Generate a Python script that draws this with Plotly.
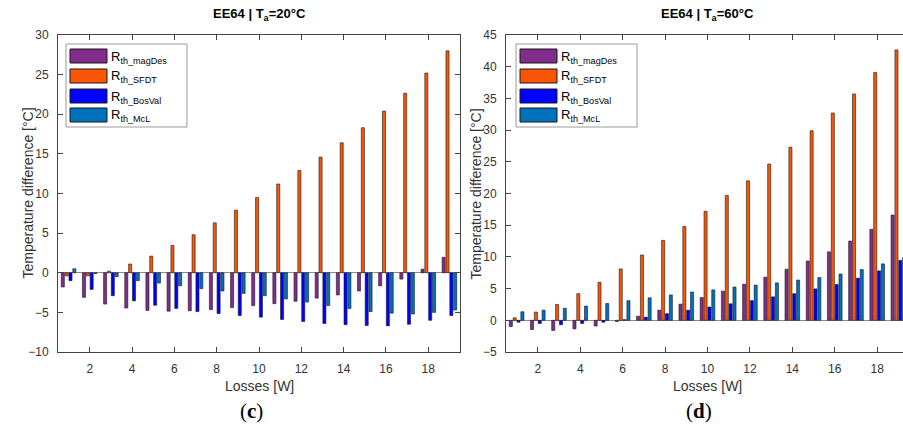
import plotly.graph_objects as go

# ---------------- data ----------------
losses = list(range(1, 20))
x_ticks = [2, 4, 6, 8, 10, 12, 14, 16, 18]
series_names = ["R<sub>th_magDes</sub>", "R<sub>th_SFDT</sub>", "R<sub>th_BosVal</sub>", "R<sub>th_McL</sub>"]

# Ta = 20 °C
magDes_20 = [-1.8, -3.1, -3.95, -4.45, -4.75, -4.85, -4.8, -4.65, -4.4, -4.15, -3.9, -3.6, -3.2, -2.8, -2.3, -1.65, -0.8, 0.45, 1.95]
SFDT_20 = [-0.4, -0.4, 0.2, 1.1, 2.1, 3.45, 4.8, 6.3, 7.9, 9.5, 11.2, 12.9, 14.6, 16.4, 18.3, 20.4, 22.65, 25.2, 28.0]
BosVal_20 = [-1.0, -2.1, -2.9, -3.55, -4.1, -4.5, -4.9, -5.15, -5.4, -5.6, -5.9, -6.15, -6.4, -6.55, -6.65, -6.7, -6.5, -6.0, -5.4]
McL_20 = [0.5, -0.1, -0.5, -1.0, -1.3, -1.65, -2.0, -2.3, -2.6, -2.9, -3.3, -3.7, -4.15, -4.5, -4.9, -5.1, -5.2, -5.0, -4.7]

# Ta = 60 °C
magDes_60 = [-1.0, -1.45, -1.6, -1.35, -0.9, -0.2, 0.65, 1.6, 2.55, 3.6, 4.6, 5.7, 6.8, 8.05, 9.35, 10.8, 12.5, 14.35, 16.6]
SFDT_60 = [0.4, 1.3, 2.5, 4.2, 6.0, 8.1, 10.3, 12.6, 14.8, 17.2, 19.7, 22.0, 24.65, 27.3, 29.9, 32.7, 35.7, 39.1, 42.65]
BosVal_60 = [-0.3, -0.5, -0.7, -0.5, -0.3, 0.1, 0.5, 1.05, 1.6, 2.1, 2.6, 3.1, 3.7, 4.2, 4.95, 5.65, 6.65, 7.8, 9.45]
McL_60 = [1.35, 1.6, 1.9, 2.25, 2.65, 3.1, 3.55, 4.0, 4.45, 4.8, 5.25, 5.55, 5.9, 6.35, 6.75, 7.3, 8.0, 8.9, 9.9]

colors = ["#822D8C", "#FA5505", "#0000FF", "#0072BD"]

# ---------------- layout helpers ----------------
W, H = 903, 433
TOP, BOT = 35, 352  # plot area rows (pixels)


def X(px):
    return px / W


def Y(py):
    return (BOT - py) / (BOT - TOP)


fig = go.Figure()

for axis_suffix, data in (("", [magDes_20, SFDT_20, BosVal_20, McL_20]),
                          ("2", [magDes_60, SFDT_60, BosVal_60, McL_60])):
    for name, vals, col in zip(series_names, data, colors):
        fig.add_trace(go.Bar(
            x=losses, y=vals, name=name,
            xaxis="x" + axis_suffix, yaxis="y" + axis_suffix,
            marker=dict(color=col, line=dict(color="#1a1a1a", width=0.6)),
            showlegend=False,
        ))

FONT = "Liberation Sans, Arial, sans-serif"
axcol = "#444444"
tickfont = dict(family=FONT, size=12, color="#333333")

common_x = dict(tickvals=x_ticks, ticks="inside", ticklen=5, tickcolor=axcol,
                showline=True, linecolor=axcol, linewidth=1, showgrid=False,
                zeroline=False, tickfont=tickfont, ticklabelstandoff=6,
                automargin=False)
common_y = dict(dtick=5, ticks="inside", ticklen=5, tickcolor=axcol,
                showline=True, linecolor=axcol, linewidth=1, showgrid=False,
                zeroline=True, zerolinecolor="#8c8c8c", zerolinewidth=1,
                tickfont=tickfont, ticklabelstandoff=6, automargin=False)

# the right panel is cut by the picture's right edge at x = 903 px (axis would end at 909 px)
px_per_unit = (909 - 506) / 19.0
right_end = 0.5 + (W - 506) / px_per_unit

fig.update_layout(
    width=W, height=H,
    margin=dict(l=0, r=0, t=TOP, b=H - BOT, pad=0),
    paper_bgcolor="white", plot_bgcolor="white",
    barmode="group", bargap=0.273, bargroupgap=0.2,
    hovermode=False,
    xaxis=dict(domain=[X(58), X(460)], range=[0.5, 19.5], anchor="y",
               mirror="ticks", **common_x),
    yaxis=dict(domain=[0, 1], range=[-10, 30], anchor="x",
               mirror="ticks", **common_y),
    xaxis2=dict(domain=[X(506), 1.0], range=[0.5, right_end], anchor="y2",
                mirror="ticks", **common_x),
    yaxis2=dict(domain=[0, 1], range=[-5, 45], anchor="x2",
                mirror=False, **common_y),
)

annotations = []
shapes = []

# titles and axis titles
for cx, ax_left, title, letter in ((259, 58, "EE64 | T<sub>a</sub>=20°C", "c"),
                                   (707, 506, "EE64 | T<sub>a</sub>=60°C", "d")):
    annotations.append(dict(text="<b>" + title + "</b>", x=X(cx), y=Y(15), xref="paper", yref="paper",
                            xanchor="center", yanchor="middle", showarrow=False,
                            font=dict(family=FONT, size=13, color="black")))
    annotations.append(dict(text="Losses [W]", x=X(cx), y=Y(386), xref="paper", yref="paper",
                            xanchor="center", yanchor="middle", showarrow=False,
                            font=dict(family=FONT, size=14, color="#333333")))
    annotations.append(dict(text="Temperature difference [°C]", x=X(ax_left - 31), y=Y(193.5),
                            xref="paper", yref="paper", textangle=-90,
                            xanchor="center", yanchor="middle", showarrow=False,
                            font=dict(family=FONT, size=14, color="#333333")))
    annotations.append(dict(text="(<b>" + letter + "</b>)", x=X(cx - 8), y=Y(411), xref="paper", yref="paper",
                            xanchor="center", yanchor="middle", showarrow=False,
                            font=dict(family="Liberation Serif, serif", size=21, color="black")))

# custom legends (MATLAB style, wide swatches)
row_centers = [56, 76, 96, 115]
for off in (0, 450):
    shapes.append(dict(type="rect", xref="paper", yref="paper",
                       x0=X(66 + off), x1=X(187 + off), y0=Y(127), y1=Y(44),
                       line=dict(color="#9a9a9a", width=1), fillcolor="white", layer="above"))
    for rc, name, col in zip(row_centers, series_names, colors):
        shapes.append(dict(type="rect", xref="paper", yref="paper",
                           x0=X(70 + off), x1=X(107 + off), y0=Y(rc + 7), y1=Y(rc - 7),
                           line=dict(color="#1a1a1a", width=1), fillcolor=col, layer="above"))
        annotations.append(dict(text=name, x=X(109 + off), y=Y(rc + 1), xref="paper", yref="paper",
                                xanchor="left", yanchor="middle", showarrow=False,
                                font=dict(family=FONT, size=13, color="black")))

fig.update_layout(annotations=annotations, shapes=shapes)

fig.write_html("out.html", config={"displayModeBar": False, "staticPlot": False},
               post_script="document.body.style.margin='0';")
